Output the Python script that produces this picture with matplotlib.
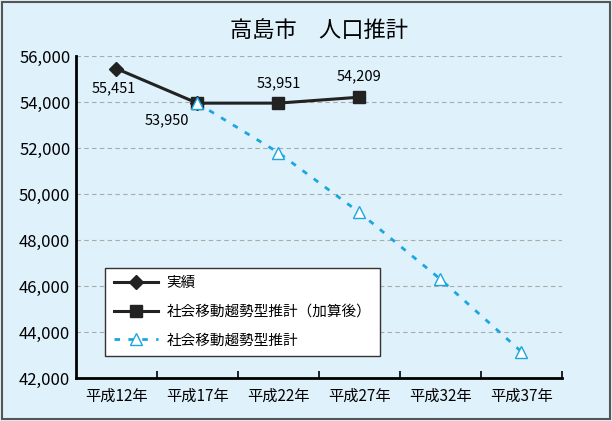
import matplotlib.pyplot as plt
from matplotlib.patches import Rectangle

plt.rcParams['font.family'] = ['Noto Sans CJK JP', 'DejaVu Sans']

categories = ['平成12年', '平成17年', '平成22年', '平成27年', '平成32年', '平成37年']
jisseki = [55451, 53950]
kasan = [53950, 53951, 54209]
suikei = [53950, 51800, 49200, 46300, 43150]

bg = '#dff1fb'
fig = plt.figure(figsize=(6.12, 4.21), dpi=100, facecolor=bg)
fig.patches.append(Rectangle((0.003, 0.004), 0.994, 0.992, transform=fig.transFigure,
                             fill=False, edgecolor='#555555', linewidth=1.5))
ax = fig.add_axes([0.124, 0.102, 0.794, 0.765], facecolor=bg)

x = list(range(len(categories)))
ax.plot(x[:2], jisseki, color='#222222', lw=2.2, marker='D', ms=7, label='実績', zorder=3)
ax.plot(x[1:4], kasan, color='#222222', lw=2.2, marker='s', ms=9, label='社会移動趨勢型推計（加算後）', zorder=3)
ax.plot(x[1:], suikei, color='#1aa6e0', lw=2, ls=(0, (2, 3)), marker='^', ms=8,
        markerfacecolor='white', markeredgecolor='#1aa6e0', markeredgewidth=1,
        label='社会移動趨勢型推計', zorder=4)

# data labels
lab = dict(textcoords='offset points', fontsize=10.5, ha='center', va='center')
ax.annotate('55,451', (0, jisseki[0]), xytext=(-2, -14), **lab)
ax.annotate('53,950', (1, jisseki[1]), xytext=(-22, -12), **lab)
ax.annotate('53,951', (2, kasan[1]), xytext=(0, 14), **lab)
ax.annotate('54,209', (3, kasan[2]), xytext=(0, 15), **lab)

ax.set_xlim(-0.5, 5.5)
ax.set_ylim(42000, 56000)
ax.set_yticks(range(42000, 56001, 2000))
ax.set_yticklabels([f'{v:,}' for v in range(42000, 56001, 2000)], fontsize=12)
ax.set_xticks(x)
ax.set_xticklabels(categories, fontsize=11)
ax.tick_params(axis='x', length=0, pad=7)
ax.set_xticks([i + 0.5 for i in x], minor=True)
ax.tick_params(axis='x', which='minor', direction='in', length=5, width=1.2)
ax.tick_params(axis='y', length=0, pad=4)
ax.grid(axis='y', color='#aaaaaa', ls=(0, (4, 3)), lw=0.8)
ax.set_axisbelow(True)
for s in ['top', 'right']:
    ax.spines[s].set_visible(False)
ax.spines['left'].set_linewidth(2)
ax.spines['bottom'].set_linewidth(2)

ax.set_title('高島市　人口推計', fontsize=16, pad=14)

leg = ax.legend(loc='lower left', bbox_to_anchor=(0.045, 0.045), fontsize=10.5, handlelength=3.0,
                handletextpad=0.6, fancybox=False, framealpha=1, edgecolor='#333333',
                borderpad=0.6, labelspacing=1.0)
leg.get_frame().set_linewidth(1)

plt.savefig('out.png', dpi=100, facecolor=bg)
